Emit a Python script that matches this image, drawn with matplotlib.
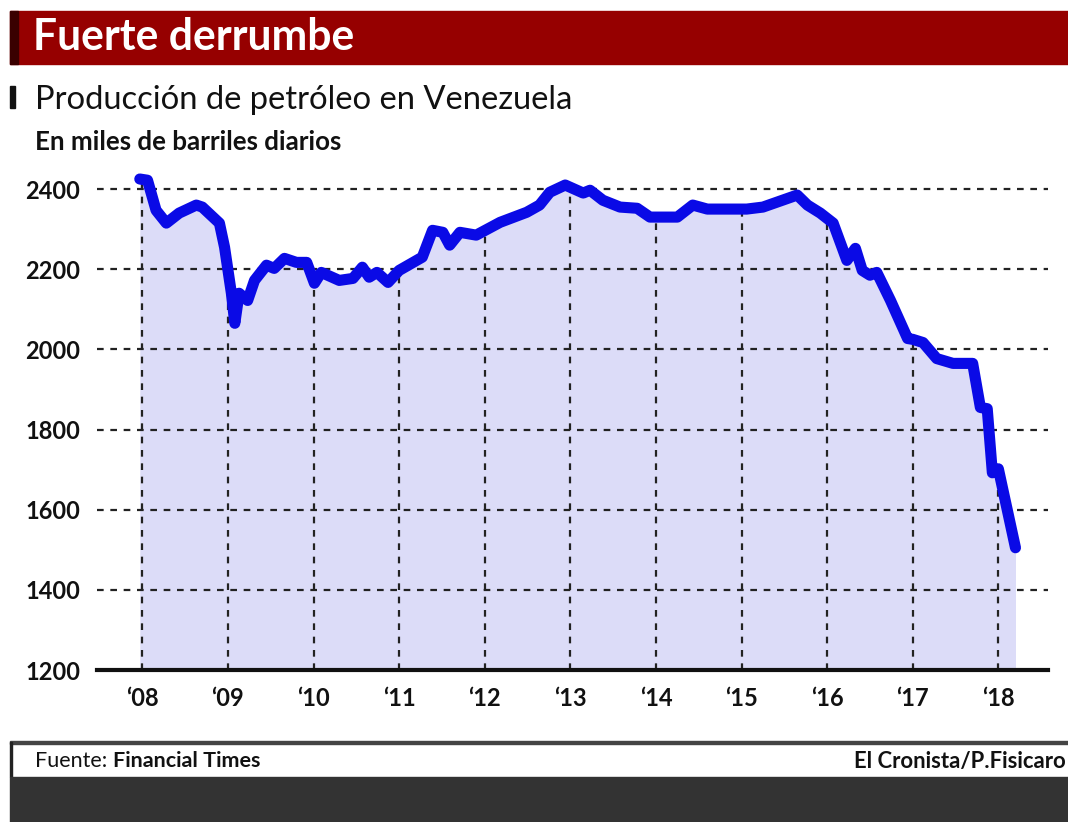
import numpy as np
import matplotlib
matplotlib.use('Agg')
import matplotlib.pyplot as plt
from matplotlib.patches import Rectangle

plt.rcParams['font.family'] = ['Lato', 'DejaVu Sans']

# producción de petróleo, miles de barriles diarios
years = [2007.97, 2008.06, 2008.16, 2008.28, 2008.43, 2008.63, 2008.70, 2008.90, 2008.96,
         2009.04, 2009.08, 2009.13, 2009.23, 2009.31, 2009.45, 2009.54, 2009.66, 2009.80,
         2009.92, 2010.01, 2010.09, 2010.30, 2010.46, 2010.57, 2010.65, 2010.74, 2010.87,
         2011.00, 2011.27, 2011.39, 2011.51, 2011.59, 2011.71, 2011.90, 2012.18, 2012.49,
         2012.64, 2012.76, 2012.94, 2013.15, 2013.23, 2013.38, 2013.58, 2013.78, 2013.93,
         2014.25, 2014.43, 2014.60, 2015.06, 2015.25, 2015.65, 2015.77, 2015.92, 2016.07,
         2016.23, 2016.33, 2016.41, 2016.50, 2016.58, 2016.74, 2016.94, 2017.00, 2017.12,
         2017.28, 2017.47, 2017.70, 2017.79, 2017.87, 2017.93, 2018.00, 2018.20]
prod = [2425, 2422, 2347, 2315, 2340, 2360, 2355, 2315, 2255,
        2140, 2065, 2140, 2122, 2172, 2210, 2202, 2227, 2217,
        2217, 2165, 2192, 2172, 2177, 2205, 2180, 2192, 2167,
        2197, 2230, 2297, 2292, 2260, 2292, 2285, 2317, 2342,
        2360, 2392, 2410, 2390, 2397, 2372, 2355, 2352, 2330,
        2330, 2360, 2350, 2350, 2355, 2385, 2360, 2340, 2315,
        2222, 2252, 2197, 2185, 2192, 2122, 2027, 2025, 2017,
        1977, 1965, 1965, 1855, 1852, 1692, 1702, 1505]

tick_years = list(range(2008, 2019))
tick_labels = ['\u2018%02d' % (y % 100) for y in tick_years]
y_ticks = [1200, 1400, 1600, 1800, 2000, 2200, 2400]

fig = plt.figure(figsize=(10.68, 8.22), dpi=100)
W, H = 1068, 822

def fx(px):
    return px / W

def fy(py):
    return 1 - py / H

def fit_text(x, y, s, width, ha='left', **kw):
    # fija el tamaño para que el texto ocupe el ancho deseado en píxeles
    t = fig.text(fx(x), fy(y), s, va='center', ha=ha, fontsize=20, **kw)
    r = fig.canvas.get_renderer()
    w = t.get_window_extent(r).width
    t.set_fontsize(20 * width / w)
    return t

fig.canvas.draw()

# cabecera roja
fig.patches.append(Rectangle((fx(10), fy(64)), fx(1058), 53 / H, transform=fig.transFigure,
                             color='#960000', zorder=0))
fig.patches.append(Rectangle((fx(10), fy(64)), fx(8), 53 / H, transform=fig.transFigure,
                             color='#3a0000', zorder=1))
fit_text(33, 37, 'Fuerte derrumbe', 322, color='white', fontweight='bold')

fig.patches.append(Rectangle((fx(10), fy(108)), fx(5), 22 / H, transform=fig.transFigure,
                             color='#111111'))
fit_text(35, 100, 'Producción de petróleo en Venezuela', 540, color='#111111')
fit_text(35, 142, 'En miles de barriles diarios', 305, color='#111111', fontweight='bold')

# pie
fig.patches.append(Rectangle((fx(10), fy(744)), fx(1058), 3 / H, transform=fig.transFigure,
                             color='#444444'))
fig.patches.append(Rectangle((fx(10), fy(777)), fx(2), 35 / H, transform=fig.transFigure,
                             color='#222222'))
fig.patches.append(Rectangle((fx(10), 0), fx(1058), fy(777), transform=fig.transFigure,
                             color='#333333'))
r = fig.canvas.get_renderer()
t1 = fig.text(fx(35), fy(761), 'Fuente: ', color='#111111', fontsize=20,
              va='center', ha='left')
t2 = fig.text(fx(35), fy(761), 'Financial Times', color='#111111', fontsize=20,
              fontweight='bold', va='center', ha='left')
total = t1.get_window_extent(r).width + t2.get_window_extent(r).width
fs = 20 * 225 / total
t1.set_fontsize(fs)
t2.set_fontsize(fs)
t2.set_x(fx(35) + t1.get_window_extent(r).width / W)
fit_text(1066, 761, 'El Cronista/P.Fisicaro', 212, ha='right', color='#111111',
         fontweight='bold')

# gráfico
ax = fig.add_axes([fx(97), fy(670), fx(1048 - 97), 501 / H])
ax.set_xlim(2007.47, 2018.58)
ax.set_ylim(1200, 2450)

ax.fill_between(years, prod, 1200, color='#dcdcf8', lw=0, zorder=1)
for ty in y_ticks[1:]:
    ax.axhline(ty, color='#222222', lw=1.6, ls=(0, (3, 3)), zorder=2)
tops = np.interp(tick_years, years, prod)
ax.vlines(tick_years, 1200, tops, color='#222222', lw=1.6, ls=(0, (3, 3)), zorder=2)
ax.plot(years, prod, color='#0a0ae6', lw=8, solid_joinstyle='round',
        solid_capstyle='round', zorder=3)

for s in ['top', 'right', 'left']:
    ax.spines[s].set_visible(False)
ax.spines['bottom'].set_linewidth(3)
ax.spines['bottom'].set_color('#111111')
ax.spines['bottom'].set_zorder(4)

ax.set_xticks(tick_years)
ax.set_xticklabels(tick_labels, fontsize=17, fontweight='bold', color='#111111')
ax.set_yticks(y_ticks)
ax.set_yticklabels([str(v) for v in y_ticks], fontsize=17, fontweight='bold', color='#111111')
ax.tick_params(axis='both', length=0)
ax.tick_params(axis='x', pad=12)
ax.tick_params(axis='y', pad=12)
ax.patch.set_alpha(0)

fig.savefig('out.png', dpi=100)
